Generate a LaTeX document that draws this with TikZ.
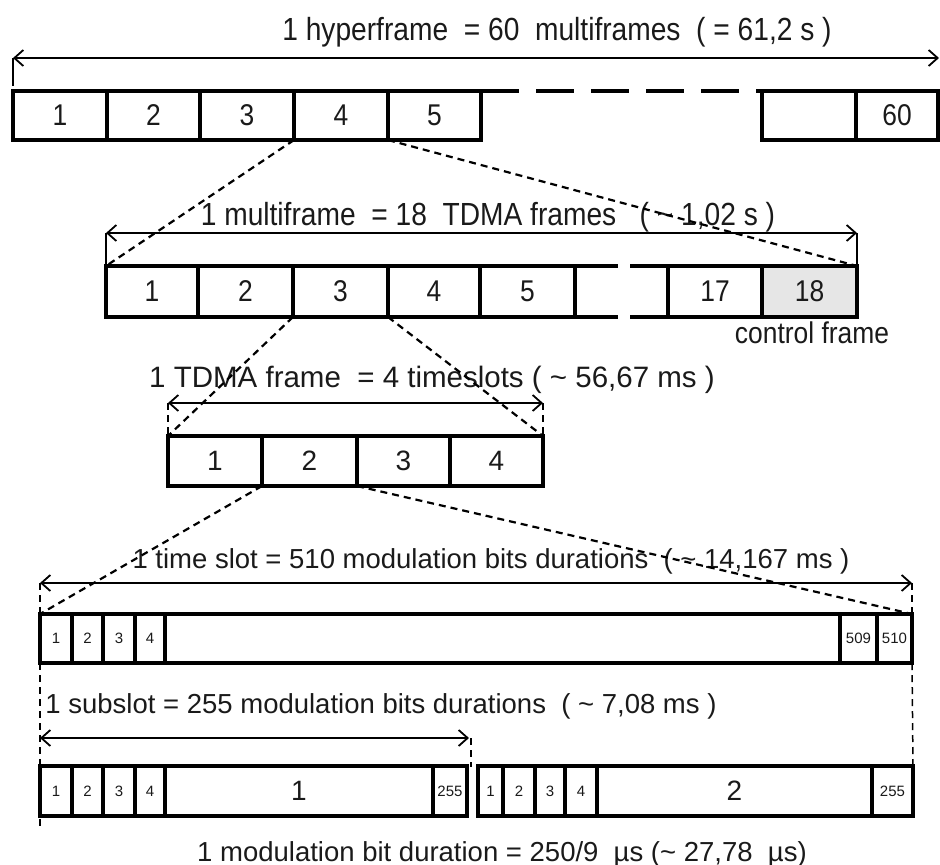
\documentclass[tikz,border=0pt]{standalone}
\usepackage{fontspec}
\setmainfont{Liberation Sans}
\newfontfamily\narrowfont{Liberation Sans}[FakeStretch=0.88]
\usetikzlibrary{arrows.meta}
\definecolor{ctrlgray}{HTML}{E6E6E6}
\definecolor{ink}{HTML}{1A1A1A}
\newcommand\mycell[7][]{\node[cell,#1,minimum width={#4-#3},minimum height={#6-#5}] (#2) at ({(#3+#4)/2},{(#5+#6)/2}) {#7};}
\begin{document}
\begin{tikzpicture}[x=1pt,y=-1pt,
  cell/.style={draw=black, text=ink, line width=3.4pt, inner sep=0pt, outer sep=0pt, font=\fontsize{28}{30}\selectfont},
  ncell/.style={cell, font=\narrowfont\fontsize{30}{32}\selectfont},
  scell/.style={cell, font=\fontsize{15}{17}\selectfont},
  conn/.style={line width=2.2pt, dash pattern=on 7pt off 5pt},
  dimline/.style={line width=1.8pt, {Straight Barb[length=9pt,width=16pt,line width=1.8pt]}-{Straight Barb[length=9pt,width=16pt,line width=1.8pt]}},
  tick/.style={line width=1.2pt},
  dtick/.style={line width=2.2pt, dash pattern=on 7pt off 5pt},
  lbl/.style={text=ink, font=\fontsize{27.5}{30}\selectfont, inner sep=0pt, anchor=base},
  nlbl/.style={text=ink, font=\narrowfont\fontsize{32}{34}\selectfont, inner sep=0pt, anchor=base}]
\useasboundingbox (0,0) rectangle (940,865);

% ---------- Row 1 : hyperframe ----------
\node[nlbl] (t1) at (557,40) {1 hyperframe \ = 60 \ multiframes \ ( = 61,2 s )};
\mycell[ncell]{r1c1}{13}{107}{91}{140}{1}
\mycell[ncell]{r1c2}{107}{200}{91}{140}{2}
\mycell[ncell]{r1c3}{200}{294}{91}{140}{3}
\mycell[ncell]{r1c4}{294}{388}{91}{140}{4}
\mycell[ncell]{r1c5}{388}{481}{91}{140}{5}
\mycell[ncell]{r1c59}{762}{856}{91}{140}{}
\mycell[ncell]{r1c60}{856}{938}{91}{140}{60}
\draw[line width=3.4pt, dash pattern=on 38pt off 17pt] (r1c5.north east) -- (r1c59.north west);
\coordinate (a1l) at (13,58);
\coordinate (a1r) at (939,58);
\draw[dimline] (a1l) -- (a1r);
\draw[tick] (a1l) -- (13,86);

% ---------- Row 2 : multiframe ----------
\node[nlbl] (t2) at (488,225) {1 multiframe \ = 18 \ TDMA frames \ \ ( \textasciitilde\ 1,02 s )};
\mycell[ncell]{r2c1}{106}{198}{266}{317}{1}
\mycell[ncell]{r2c2}{198}{293}{266}{317}{2}
\mycell[ncell]{r2c3}{293}{388}{266}{317}{3}
\mycell[ncell]{r2c4}{388}{480}{266}{317}{4}
\mycell[ncell]{r2c5}{480}{575}{266}{317}{5}
\mycell[ncell]{r2c17}{668}{762}{266}{317}{17}
\mycell[ncell,fill=ctrlgray]{r2c18}{762}{857}{266}{317}{18}
\coordinate (g1t) at (618,266);
\coordinate (g1b) at (618,317);
\coordinate (g2t) at (630,266);
\coordinate (g2b) at (630,317);
\draw[line width=3.4pt] (r2c5.north east) -- (g1t) (r2c5.south east) -- (g1b)
  (g2t) -- (r2c17.north west) (g2b) -- (r2c17.south west);
\node[text=ink, font=\narrowfont\fontsize{30}{32}\selectfont, inner sep=0pt, anchor=base] (ctrl) at (812,343) {control frame};
\coordinate (a2l) at (106,233);
\coordinate (a2r) at (857,233);
\draw[dimline, line width=2.4pt] (a2l) -- (a2r);
\draw[tick] (a2l) -- (r2c1.north west);
\draw[tick] (a2r) -- (r2c18.north east);

% ---------- Row 3 : TDMA frame ----------
\node[lbl, font=\fontsize{29.5}{32}\selectfont] (t3) at (432,387) {1 TDMA frame \ = 4 timeslots ( \textasciitilde\ 56,67 ms )};
\mycell{r3c1}{168}{262}{436}{486}{1}
\mycell{r3c2}{262}{357}{436}{486}{2}
\mycell{r3c3}{357}{450}{436}{486}{3}
\mycell{r3c4}{450}{543}{436}{486}{4}
\coordinate (a3l) at (168,403);
\coordinate (a3r) at (543,403);
\draw[dimline] (a3l) -- (a3r);
\draw[dtick] (a3l) -- (r3c1.north west);
\draw[dtick] (a3r) -- (r3c4.north east);

% ---------- Row 4 : time slot ----------
\node[lbl] (t4) at (491,568) {1 time slot = 510 modulation bits durations \ ( \textasciitilde\ 14,167 ms )};
\mycell[scell]{r4c1}{40}{72}{614}{663}{1}
\mycell[scell]{r4c2}{72}{103}{614}{663}{2}
\mycell[scell]{r4c3}{103}{135}{614}{663}{3}
\mycell[scell]{r4c4}{135}{165}{614}{663}{4}
\mycell[scell]{r4mid}{165}{840}{614}{663}{}
\mycell[scell]{r4c509}{840}{877}{614}{663}{509}
\mycell[scell]{r4c510}{877}{912}{614}{663}{510}
\coordinate (a4l) at (40,583);
\coordinate (a4r) at (912,583);
\draw[dimline, line width=1.4pt] (a4l) -- (a4r);
\draw[dtick] (a4l) -- (r4c1.north west);
\draw[dtick] (a4r) -- (r4c510.north east);

% ---------- Row 5 : subslots ----------
\node[lbl] (t5) at (381,713) {1 subslot = 255 modulation bits durations \ ( \textasciitilde\ 7,08 ms )};
\mycell[scell]{s1c1}{40}{72}{766}{816}{1}
\mycell[scell]{s1c2}{72}{103}{766}{816}{2}
\mycell[scell]{s1c3}{103}{135}{766}{816}{3}
\mycell[scell]{s1c4}{135}{165}{766}{816}{4}
\mycell{s1mid}{165}{433}{766}{816}{1}
\mycell[scell]{s1c255}{433}{467}{766}{816}{255}
\mycell[scell]{s2c1}{478}{503}{766}{816}{1}
\mycell[scell]{s2c2}{503}{535}{766}{816}{2}
\mycell[scell]{s2c3}{535}{565}{766}{816}{3}
\mycell[scell]{s2c4}{565}{597}{766}{816}{4}
\mycell{s2mid}{597}{872}{766}{816}{2}
\mycell[scell]{s2c255}{872}{913}{766}{816}{255}
\coordinate (a5l) at (40,738);
\coordinate (a5r) at (469,738);
\draw[dimline, line width=2.2pt] (a5l) -- (a5r);
\coordinate (a5t) at (471,738);
\draw[dtick, line width=1.6pt] (a5t) -- (471,767);
\coordinate (vl) at (40,830);
\draw[dtick] (r4c1.south west) -- (vl);
\draw[dtick, line width=1.5pt] (r4c510.south east) -- (s2c255.north east);

\node[lbl] (t6) at (502,861) {1 modulation bit duration = 250/9 \ µs (\textasciitilde\ 27,78 \ µs)};

% ---------- zoom connectors ----------
\draw[conn] (r1c4.south west) -- (r2c1.north west);
\draw[conn] (r1c4.south east) -- (r2c18.north east);
\draw[conn] (r2c3.south west) -- (r3c1.north west);
\draw[conn] (r2c3.south east) -- (r3c4.north east);
\draw[conn] (r3c2.south west) -- (r4c1.north west);
\draw[conn] (r3c2.south east) -- (r4c510.north east);
\end{tikzpicture}
\end{document}
